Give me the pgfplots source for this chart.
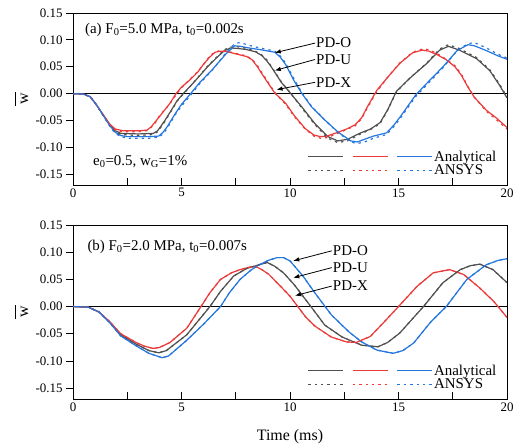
\documentclass[border=0pt]{standalone}
\usepackage{fontspec}
\setmainfont{Liberation Serif}
\usepackage{pgfplots}
\pgfplotsset{compat=1.18}
\usepackage{pgfplotstable}
\usetikzlibrary{arrows.meta}

\definecolor{cgrey}{RGB}{80,80,80}
\definecolor{cred}{RGB}{236,58,58}
\definecolor{cblue}{RGB}{36,118,222}

% ---------------- Panel (a) ----------------
\pgfplotstableread{
t w
0 0
0.5 -0.001
0.8 -0.006
1.1 -0.022
1.4 -0.040
1.7 -0.057
1.95 -0.066
2.3 -0.069
3.0 -0.069
3.4 -0.068
3.6 -0.062
3.8 -0.052
4.0 -0.042
4.45 -0.019
4.75 0.000
5.0 0.012
5.4 0.026
5.75 0.040
6.0 0.054
6.3 0.068
6.55 0.077
6.8 0.079
7.1 0.078
7.5 0.074
8.0 0.069
8.25 0.063
8.5 0.050
8.75 0.034
9.0 0.019
9.3 0.001
9.8 -0.018
10.2 -0.041
10.7 -0.065
11.1 -0.077
11.4 -0.080
11.7 -0.079
12.2 -0.072
12.6 -0.066
13.0 -0.058
13.3 -0.045
13.6 -0.022
14.0 0.006
14.45 0.028
15.05 0.056
15.65 0.076
16.1 0.081
16.4 0.079
16.8 0.072
17.2 0.063
17.6 0.050
17.9 0.034
18.2 0.012
18.5 -0.007
19.05 -0.031
19.5 -0.045
20 -0.063
}\aXan
\pgfplotstableread{
t w
0 0
0.5 -0.001
0.8 -0.006
1.1 -0.022
1.4 -0.041
1.7 -0.058
1.95 -0.068
2.3 -0.071
3.0 -0.071
3.4 -0.069
3.6 -0.063
3.8 -0.054
4.0 -0.040
4.45 -0.020
4.75 -0.002
5.0 0.011
5.4 0.027
5.75 0.041
6.0 0.053
6.3 0.070
6.55 0.078
6.8 0.080
7.1 0.079
7.5 0.075
8.0 0.070
8.25 0.064
8.5 0.052
8.75 0.036
9.0 0.021
9.3 0.002
9.8 -0.020
10.2 -0.043
10.7 -0.066
11.1 -0.079
11.4 -0.083
11.7 -0.082
12.2 -0.074
12.6 -0.067
13.0 -0.060
13.3 -0.047
13.6 -0.024
14.0 0.004
14.45 0.028
15.05 0.057
15.65 0.077
16.1 0.083
16.4 0.082
16.8 0.074
17.2 0.064
17.6 0.052
17.9 0.036
18.2 0.013
18.5 -0.007
19.05 -0.033
19.5 -0.048
20 -0.066
}\aXans
\pgfplotstableread{
t w
0 0
0.5 -0.001
0.8 -0.006
1.1 -0.022
1.4 -0.040
1.7 -0.058
1.95 -0.069
2.2 -0.074
3.0 -0.075
3.7 -0.074
3.9 -0.069
4.2 -0.052
4.5 -0.033
4.8 -0.013
5.08 0.000
5.5 0.018
5.9 0.036
6.2 0.050
6.6 0.066
6.95 0.079
7.25 0.085
7.6 0.084
8.0 0.082
8.4 0.078
8.7 0.071
8.95 0.060
9.15 0.049
9.6 0.021
10.1 -0.003
10.55 -0.025
11.15 -0.056
11.75 -0.080
12.2 -0.088
12.65 -0.085
13.2 -0.074
13.7 -0.066
14.15 -0.054
14.5 -0.030
14.9 0.004
15.5 0.028
16.3 0.056
16.9 0.081
17.3 0.088
17.8 0.081
18.6 0.065
19.2 0.043
19.65 0.016
20 -0.008
}\aUan
\pgfplotstableread{
t w
0 0
0.5 -0.001
0.8 -0.006
1.1 -0.022
1.4 -0.041
1.7 -0.059
1.95 -0.071
2.2 -0.076
3.0 -0.078
3.7 -0.076
3.9 -0.071
4.2 -0.054
4.5 -0.034
4.8 -0.014
5.08 -0.001
5.5 0.018
5.9 0.037
6.2 0.051
6.6 0.067
6.95 0.081
7.25 0.087
7.6 0.087
8.0 0.084
8.4 0.079
8.7 0.072
8.95 0.062
9.15 0.050
9.6 0.022
10.1 -0.003
10.55 -0.027
11.15 -0.058
11.75 -0.083
12.2 -0.091
12.65 -0.088
13.2 -0.076
13.7 -0.067
14.15 -0.056
14.5 -0.031
14.9 0.003
15.5 0.028
16.3 0.057
16.9 0.083
17.3 0.091
17.8 0.084
18.6 0.067
19.2 0.045
19.65 0.018
20 -0.006
}\aUans
\pgfplotstableread{
t w
0 0
0.5 -0.001
0.8 -0.006
1.1 -0.022
1.4 -0.041
1.7 -0.060
1.95 -0.072
2.2 -0.078
2.5 -0.080
3.5 -0.080
3.95 -0.079
4.15 -0.072
4.35 -0.061
4.7 -0.038
5.0 -0.020
5.42 0.000
5.85 0.021
6.45 0.046
7.05 0.074
7.45 0.089
7.7 0.088
8.1 0.085
8.6 0.082
9.3 0.077
9.55 0.068
9.8 0.054
10.2 0.023
10.55 0.000
11.0 -0.025
11.6 -0.049
12.2 -0.071
12.8 -0.088
13.1 -0.090
13.5 -0.084
13.85 -0.079
14.45 -0.073
14.8 -0.058
15.1 -0.042
15.8 -0.002
16.3 0.019
17.05 0.050
17.7 0.080
18.2 0.091
18.5 0.089
19.05 0.080
19.6 0.070
20 0.064
}\aOan
\pgfplotstableread{
t w
0 0
0.5 -0.001
0.8 -0.006
1.1 -0.022
1.4 -0.042
1.7 -0.061
1.95 -0.074
2.2 -0.080
2.5 -0.083
3.5 -0.083
3.95 -0.081
4.15 -0.075
4.35 -0.064
4.7 -0.040
5.0 -0.023
5.42 -0.003
5.85 0.019
6.45 0.045
7.05 0.076
7.45 0.093
7.7 0.095
8.1 0.090
8.6 0.085
9.3 0.079
9.55 0.070
9.8 0.057
10.2 0.026
10.55 0.002
11.0 -0.024
11.6 -0.049
12.2 -0.072
12.8 -0.090
13.1 -0.093
13.5 -0.089
13.85 -0.083
14.45 -0.076
14.8 -0.061
15.1 -0.045
15.8 -0.005
16.3 0.016
17.05 0.048
17.7 0.080
18.2 0.093
18.5 0.095
19.05 0.085
19.6 0.073
20 0.066
}\aOans

% ---------------- Panel (b) ----------------
\pgfplotstableread{
t w
0 0
0.7 -0.001
1.2 -0.010
1.7 -0.028
2.2 -0.050
2.9 -0.066
3.3 -0.073
3.7 -0.077
4.0 -0.075
4.47 -0.066
5.24 -0.040
5.9 0.000
6.3 0.025
6.8 0.050
7.3 0.062
7.7 0.068
8.2 0.073
8.45 0.073
8.7 0.068
9.0 0.060
9.5 0.040
10.0 0.019
10.7 -0.018
11.15 -0.036
11.9 -0.056
12.6 -0.065
13.05 -0.066
13.7 -0.055
14.3 -0.030
15.0 0.000
15.85 0.037
16.6 0.062
17.35 0.068
18.0 0.059
18.75 0.034
19.4 0.009
20 -0.020
}\bX
\pgfplotstableread{
t w
0 0
0.7 -0.001
1.2 -0.010
1.7 -0.029
2.2 -0.052
2.9 -0.069
3.5 -0.081
3.95 -0.085
4.3 -0.081
5.24 -0.052
6.31 0.000
6.8 0.028
7.4 0.056
8.0 0.070
8.5 0.076
8.95 0.081
9.3 0.074
9.7 0.062
10.2 0.040
10.6 0.019
11.0 -0.002
11.6 -0.034
12.4 -0.056
13.3 -0.071
14.05 -0.074
14.5 -0.066
15.05 -0.049
16.15 0.000
17.05 0.044
17.85 0.068
18.3 0.075
18.75 0.078
19.35 0.068
20 0.044
}\bU
\pgfplotstableread{
t w
0 0
0.7 -0.001
1.2 -0.010
1.7 -0.030
2.2 -0.054
2.9 -0.072
3.5 -0.086
4.1 -0.094
4.4 -0.091
5.24 -0.062
6.0 -0.033
6.8 0.000
7.2 0.025
7.7 0.050
8.2 0.067
8.5 0.075
9.0 0.085
9.4 0.090
9.7 0.090
10.0 0.084
10.6 0.056
11.15 0.025
11.9 -0.015
12.7 -0.046
13.3 -0.065
14.0 -0.080
14.75 -0.086
15.2 -0.081
15.7 -0.067
16.45 -0.030
17.2 0.000
18.15 0.050
19.05 0.077
19.6 0.085
20 0.088
}\bO

\tikzset{
  an/.style={line width=1.2bp},
  ans/.style={line width=1.2bp, dash pattern=on 2.4bp off 4bp},
  lbl/.style={font=\fontsize{15}{17}\selectfont, inner sep=0pt},
  arr/.style={-{Latex[length=6bp,width=4.5bp]}, line width=0.8bp},
}

\newcommand{\wbar}{\vbox{\hrule width 14bp height 1.1bp \kern 4.5bp \hbox to 14bp{\hss w\hss}}}
\newcommand{\lt}[1]{\makebox[62bp][l]{#1}}

\pgfplotsset{
  panel/.style={
    scale only axis, width=434bp,
    xmin=0, xmax=20, ymin=-0.17, ymax=0.15,
    xtick={0,5,10,15,20},
    minor xtick={2.5,7.5,12.5,17.5},
    ytick={-0.15,-0.1,-0.05,0,0.05,0.1,0.15},
    xtick pos=bottom, ytick pos=left,
    xtick align=inside, ytick align=outside,
    major tick length=7bp, minor tick length=7bp,
    tick style={black, line width=0.8bp},
    axis line style={black, line width=0.9bp},
    /pgf/number format/assume math mode=true,
    yticklabel style={/pgf/number format/.cd, fixed, fixed zerofill, precision=2},
    tick label style={font=\fontsize{13}{15}\selectfont},
    label style={font=\fontsize{16}{19}\selectfont},
    ylabel={\wbar},
    ylabel style={at={(axis description cs:-0.118,0.5)}, anchor=center},
    legend columns=3,
    legend image code/.code={\draw[##1] (0bp,0bp) -- (35bp,0bp);},
    legend style={draw=none, fill=none,
      font=\fontsize{15}{17}\selectfont,
      nodes={inner sep=1.2bp},
      /tikz/every even column/.append style={column sep=6bp},
      at={(axis description cs:0.985,0.03)}, anchor=south east},
  },
}

\begin{document}
\begin{tikzpicture}
% ---------------- (b) bottom ----------------
\begin{axis}[panel, height=174bp, at={(0,0)},
  xlabel={Time (ms)},
  xlabel style={at={(axis description cs:0.5,-0.218)}, anchor=center}]
\addplot[black, line width=0.9bp, forget plot] coordinates {(0,0) (20,0)};
\addplot[cgrey, an] table[x=t,y=w] {\bU};
\addplot[cred, an] table[x=t,y=w] {\bX};
\addplot[cblue, an] table[x=t,y=w] {\bO};
\addplot[cgrey, ans] table[x=t,y=w] {\bU};
\addplot[cred, ans] table[x=t,y=w] {\bX};
\addplot[cblue, ans] table[x=t,y=w] {\bO};
\legend{\hbox{},\hbox{},\lt{Analytical},\hbox{},\hbox{},\lt{ANSYS}}
\node[lbl, anchor=west] at (axis cs:0.66,0.110) {(b) F\textsubscript{0}=2.0 MPa, t\textsubscript{0}=0.007s};
\node[lbl, anchor=west] (o) at (axis cs:11.97,0.1025) {PD-O};
\node[lbl, anchor=west] (u) at (axis cs:11.97,0.0716) {PD-U};
\node[lbl, anchor=west] (x) at (axis cs:11.97,0.0377) {PD-X};
\draw[arr] ([xshift=-1bp]o.west) -- (axis cs:10.15,0.084);
\draw[arr] ([xshift=-1bp]u.west) -- (axis cs:10.15,0.053);
\draw[arr] ([xshift=-1bp]x.west) -- (axis cs:10.23,0.020);
\end{axis}
% ---------------- (a) top ----------------
\begin{axis}[panel, height=172bp, at={(0,214bp)}]
\addplot[black, line width=0.9bp, forget plot] coordinates {(0,0) (20,0)};
\addplot[cgrey, an] table[x=t,y=w] {\aUan};
\addplot[cred, an] table[x=t,y=w] {\aXan};
\addplot[cblue, an] table[x=t,y=w] {\aOan};
\addplot[cgrey, ans] table[x=t,y=w] {\aUans};
\addplot[cred, ans] table[x=t,y=w] {\aXans};
\addplot[cblue, ans] table[x=t,y=w] {\aOans};
\legend{\hbox{},\hbox{},\lt{Analytical},\hbox{},\hbox{},\lt{ANSYS}}
\node[lbl, anchor=west] at (axis cs:0.55,0.119) {(a) F\textsubscript{0}=5.0 MPa, t\textsubscript{0}=0.002s};
\node[lbl, anchor=west] at (axis cs:0.92,-0.127) {e\textsubscript{0}=0.5, w\textsubscript{G}=1\%};
\node[lbl, anchor=west] (o) at (axis cs:11.2,0.094) {PD-O};
\node[lbl, anchor=west] (u) at (axis cs:11.2,0.0635) {PD-U};
\node[lbl, anchor=west] (x) at (axis cs:11.2,0.021) {PD-X};
\draw[arr] ([xshift=-1bp]o.west) -- (axis cs:9.3,0.076);
\draw[arr] ([xshift=-1bp]u.west) -- (axis cs:9.3,0.043);
\draw[arr] ([xshift=-1bp]x.west) -- (axis cs:9.38,0.0074);
\end{axis}
\path[use as bounding box] (-73bp,-48bp) rectangle (449bp,399bp);
\end{tikzpicture}
\end{document}
